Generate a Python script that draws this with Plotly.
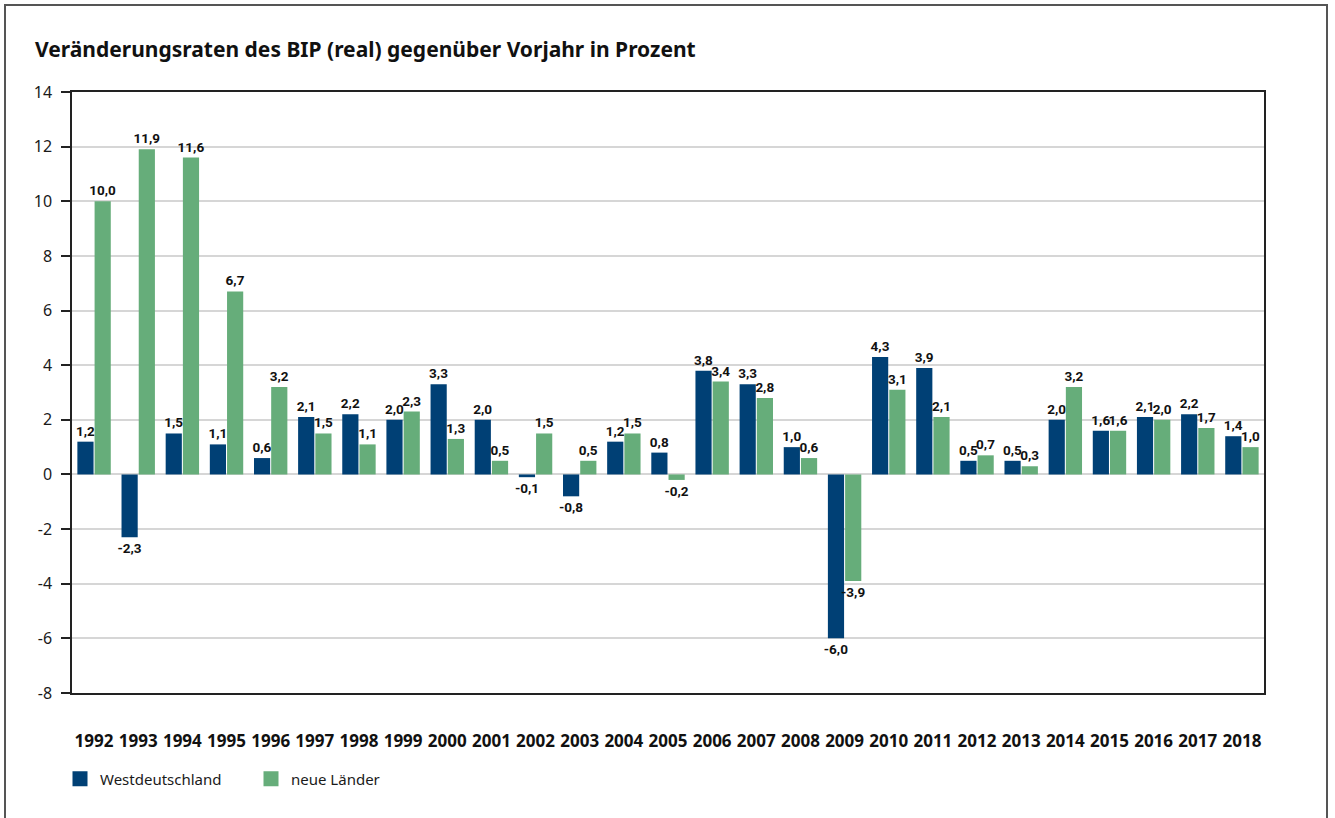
import plotly.graph_objects as go

years = [str(y) for y in range(1992, 2019)]
west = [1.2, -2.3, 1.5, 1.1, 0.6, 2.1, 2.2, 2.0, 3.3, 2.0, -0.1, -0.8, 1.2, 0.8,
        3.8, 3.3, 1.0, -6.0, 4.3, 3.9, 0.5, 0.5, 2.0, 1.6, 2.1, 2.2, 1.4]
neue = [10.0, 11.9, 11.6, 6.7, 3.2, 1.5, 1.1, 2.3, 1.3, 0.5, 1.5, 0.5, 1.5, -0.2,
        3.4, 2.8, 0.6, -3.9, 3.1, 2.1, 0.7, 0.3, 3.2, 1.6, 2.0, 1.7, 1.0]
y_ticks = list(range(-8, 15, 2))
series_names = ["Westdeutschland", "neue Länder"]

BLUE = "#004075"
GREEN = "#66ad7a"
FONT = "Noto Sans"

fig = go.Figure()
for name, vals, col in zip(series_names, [west, neue], [BLUE, GREEN]):
    fig.add_trace(go.Bar(
        x=years, y=vals, name=name, marker=dict(color=col, line=dict(width=0)),
        texttemplate="%{y:.1f}", textposition="outside", cliponaxis=False,
        constraintext="none", showlegend=False,
        textfont=dict(family="Roboto", size=13.5, color="#111111", weight="bold"),
    ))
# legend entries (square swatches)
for name, col in zip(series_names, [BLUE, GREEN]):
    fig.add_trace(go.Scatter(
        x=[None], y=[None], mode="markers", name=name,
        marker=dict(symbol="square", size=15, color=col, line=dict(width=0)),
        showlegend=True,
    ))

W, H = 1335, 818
L, R, T, B = 72, 71, 92, 125
pw, ph = W - L - R, H - T - B

def px(x):
    return (x - L) / pw

def py(y):
    return (H - B - y) / ph

fig.update_layout(
    width=W, height=H,
    margin=dict(l=L, r=R, t=T, b=B),
    paper_bgcolor="white", plot_bgcolor="white",
    separators=",.",
    barmode="group", bargap=0.22, bargroupgap=0.06,
    font=dict(family=FONT, color="#1a1a1a"),
    title=dict(text="<b>Veränderungsraten des BIP (real) gegenüber Vorjahr in Prozent</b>",
               x=35 / W, xref="container", xanchor="left",
               y=1 - 50 / H, yref="container", yanchor="middle",
               font=dict(family=FONT, size=21, color="#111111")),
    xaxis=dict(
        showgrid=False, ticks="", showline=True, mirror=True,
        linecolor="#222222", linewidth=1.5,
        tickfont=dict(family=FONT, size=17, color="#111111", weight="bold"),
        ticklabelstandoff=32,
    ),
    yaxis=dict(
        range=[-8, 14], tickvals=y_ticks, ticktext=[str(v) for v in y_ticks],
        showgrid=True, gridcolor="#d6d6d6", gridwidth=1.5,
        zeroline=True, zerolinecolor="#d6d6d6", zerolinewidth=1.5,
        showline=True, mirror=True, linecolor="#222222", linewidth=1.5,
        ticks="outside", ticklen=9, tickcolor="#222222", tickwidth=1.5,
        tickfont=dict(family=FONT, size=16, color="#1a1a1a"),
        ticklabelstandoff=6,
    ),
    legend=dict(
        orientation="h", x=px(60), xanchor="left", y=py(779), yanchor="middle",
        font=dict(family=FONT, size=15, color="#1a1a1a"),
        entrywidth=146, entrywidthmode="pixels", traceorder="normal",
        itemsizing="trace",
    ),
    showlegend=True,
    shapes=[dict(type="rect", xref="paper", yref="paper",
                 x0=px(5), x1=px(1327), y0=py(840), y1=py(5),
                 line=dict(color="#555555", width=2), layer="above")],
)

fig.write_html("out.html", config={"displayModeBar": False},
               post_script="document.body.style.margin='0';")
